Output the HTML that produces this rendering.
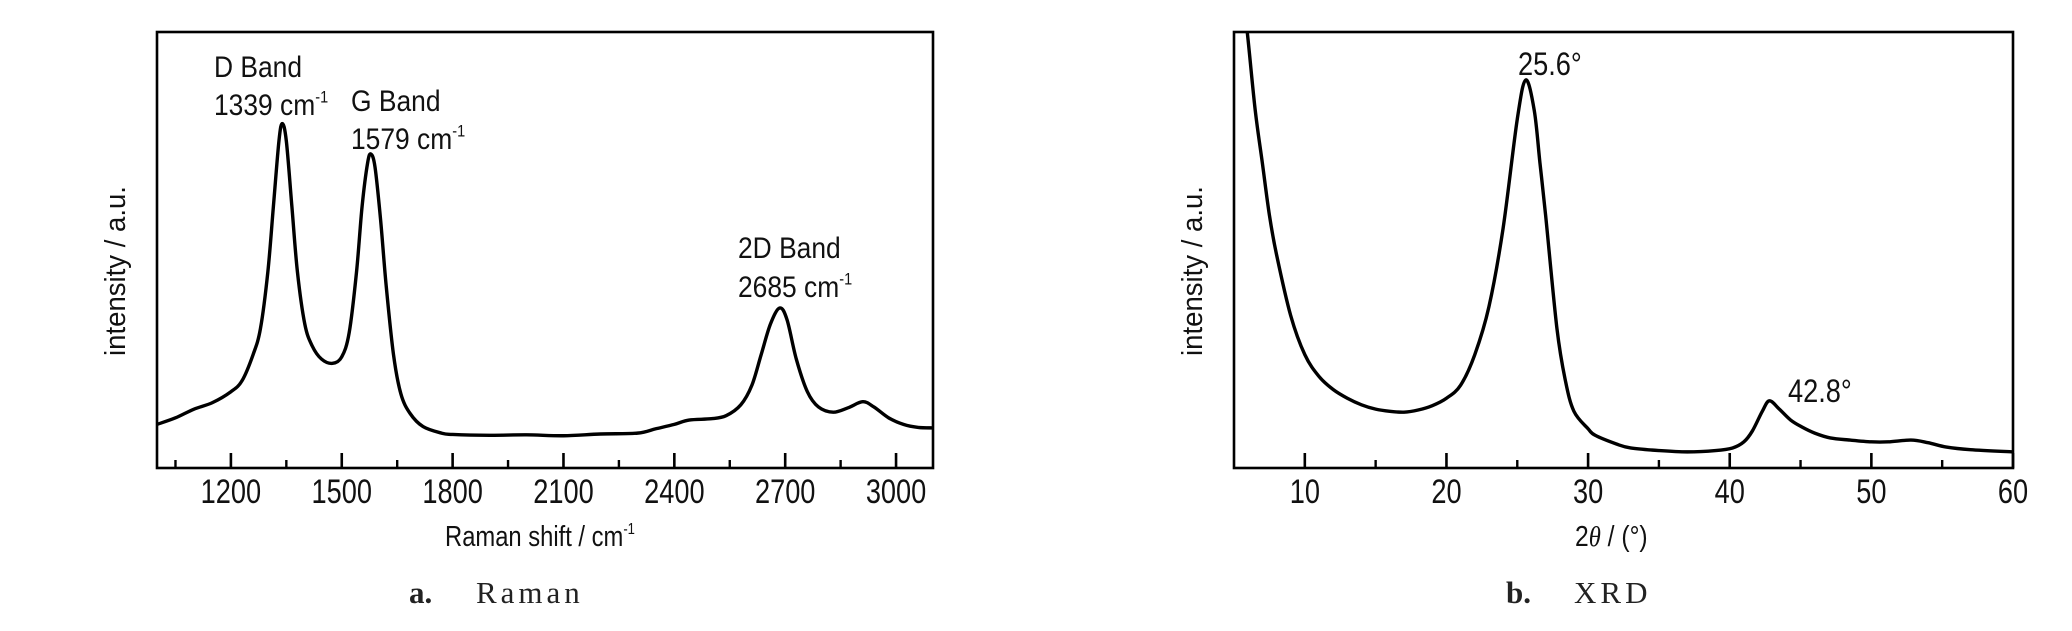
<!DOCTYPE html>
<html><head><meta charset="utf-8"><style>
html,body{margin:0;padding:0;background:#fff;}
svg{display:block;}
text{font-family:"Liberation Sans",sans-serif;fill:#111;}
.cap{font-family:"Liberation Serif",serif;fill:#222;}
</style></head><body>
<svg id="fig" width="2072" height="631" viewBox="0 0 2072 631" xmlns="http://www.w3.org/2000/svg">
<g id="ramanG"></g>
<g id="xrdG"></g>
</svg>
<script>
// ---- Raman data ----
const ramanX = [1000,1050,1100,1150,1200,1230,1260,1280,1300,1315,1330,1339,1350,1365,1380,1400,1420,1445,1475,1500,1520,1540,1555,1570,1579,1590,1605,1620,1640,1660,1685,1720,1770,1800,1900,2000,2100,2200,2300,2350,2400,2440,2500,2540,2580,2610,2635,2660,2685,2705,2730,2760,2790,2830,2870,2910,2940,2980,3020,3060,3100];
const ramanY = [10,11.5,13.5,15,17.5,20,26,32,45,60,75,79,75,60,45,33,28,25,24,25.5,31,45,60,70,72,69,57,42,26,17,12.5,9.5,8,7.7,7.5,7.6,7.4,7.8,8,9,10,11,11.3,12,14.5,19,26,33,36.7,34,25,17.5,14,12.8,13.8,15.2,14,11.5,10,9.3,9.2];
const ramanMajor = [1200,1500,1800,2100,2400,2700,3000];
const ramanMinor = [1050,1350,1650,1950,2250,2550,2850];
// ---- XRD data ----
const xrdX = [5.6,6,6.5,7,7.5,8,9,10,11,12,13,14,15,16,17,18,19,20,21,22,23,24,25,25.6,26.2,26.6,27,27.8,28.4,29,30,30.5,32,33,35,37,39,40.2,41,41.6,42.3,42.8,43.5,44.3,45.1,46,47.1,48.5,50,51.2,52.8,54,55.3,57,60];
const xrdY = [110,98,82,70,58,49,35,26,21,18,16,14.5,13.5,13,12.8,13.3,14.3,16,19,26,37,55,80,89,82,70,58,32,20,13,9,7.5,5.5,4.6,4,3.7,4,4.6,6,8.5,13,15.4,13.5,11,9.4,8,6.9,6.4,6,6,6.4,5.8,4.8,4.2,3.7];
const xrdMajor = [10,20,30,40,50,60];
const xrdMinor = [15,25,35,45,55];

const NS = "http://www.w3.org/2000/svg";
function mk(tag, parent, attrs){const e=document.createElementNS(NS,tag);for(const k in attrs)e.setAttribute(k,attrs[k]);parent.appendChild(e);return e;}
function txt(parent,s,x,y,size,sx,anchor){
  const t=mk('text',parent,{'font-size':size,'text-anchor':anchor||'start',transform:`translate(${x},${y}) scale(${sx},1)`});
  t.textContent=s;return t;}
function smooth(pts){
  let d=`M${pts[0][0]},${pts[0][1]}`;
  for(let i=0;i<pts.length-1;i++){
    const p0=pts[Math.max(0,i-1)],p1=pts[i],p2=pts[i+1],p3=pts[Math.min(pts.length-1,i+2)];
    const c1=[p1[0]+(p2[0]-p0[0])/6,p1[1]+(p2[1]-p0[1])/6];
    const c2=[p2[0]-(p3[0]-p1[0])/6,p2[1]-(p3[1]-p1[1])/6];
    d+=` C${c1[0].toFixed(2)},${c1[1].toFixed(2)} ${c2[0].toFixed(2)},${c2[1].toFixed(2)} ${p2[0].toFixed(2)},${p2[1].toFixed(2)}`;
  }return d;}

function drawPanel(g,cfg){
  const {L,R,T,B,xmin,xmax,xs,ys,major,minor,id}=cfg;
  const sx=v=>L+(v-xmin)/(xmax-xmin)*(R-L);
  const sy=v=>B-v/100*(B-T);
  const defs=mk('defs',g,{});
  const cp=mk('clipPath',defs,{id:'clip'+id});
  mk('rect',cp,{x:L,y:T,width:R-L,height:B-T});
  const pts=xs.map((x,i)=>[sx(x),sy(ys[i])]);
  const line=mk('path',g,{d:smooth(pts),fill:'none',stroke:'#000','stroke-width':3.4,'stroke-linejoin':'round','clip-path':`url(#clip${id})`});
  
  
  const frame=mk('rect',g,{x:L,y:T,width:R-L,height:B-T,fill:'none',stroke:'#000','stroke-width':2.6});
  
  
  const tg=mk('g',g,{});
  
  
  major.forEach(v=>{
    const tk=mk('line',tg,{x1:sx(v),x2:sx(v),y1:B,y2:B-15,stroke:'#000','stroke-width':2.6});
    
    
    const lb=txt(tg,String(v),sx(v),503,34,0.8,'middle');
    
    
  });
  minor.forEach(v=>{
    const tk=mk('line',tg,{x1:sx(v),x2:sx(v),y1:B,y2:B-8,stroke:'#000','stroke-width':2.4});
    
    
  });
  return {sx,sy};
}

const rg=document.getElementById('ramanG');
drawPanel(rg,{L:157,R:933,T:32,B:468,xmin:1000,xmax:3100,xs:ramanX,ys:ramanY,major:ramanMajor,minor:ramanMinor,id:'raman'});
const xg=document.getElementById('xrdG');
drawPanel(xg,{L:1234,R:2013,T:32,B:468,xmin:5,xmax:60,xs:xrdX,ys:xrdY,major:xrdMajor,minor:xrdMinor,id:'xrd'});

function sup(parent,x,y,base,supTxt,size,sx,name){
  const t=mk('text',parent,{'font-size':size,transform:`translate(${x},${y}) scale(${sx},1)`});
  
  
  t.appendChild(document.createTextNode(base));
  const s=mk('tspan',t,{'font-size':size*0.55,dy:-size*0.42});
  s.textContent=supTxt;
  return t;}

// Raman annotations
let a;
a=txt(rg,'D Band',214,77,30,0.88);


sup(rg,214,115,'1339 cm','-1',30,0.88,'d-band-value');
a=txt(rg,'G Band',351,111,30,0.88);


sup(rg,351,149,'1579 cm','-1',30,0.88,'g-band-value');
a=txt(rg,'2D Band',738,258,30,0.88);


sup(rg,738,297,'2685 cm','-1',30,0.88,'2d-band-value');
sup(rg,540,546,'Raman shift / cm','-1',29,0.82,'x-axis-title').setAttribute('text-anchor','middle');
a=mk('text',rg,{'font-size':29,'text-anchor':'middle',transform:'translate(125,271) rotate(-90) scale(0.95,1)'});
a.textContent='intensity / a.u.';


a=mk('text',rg,{'class':'cap','font-size':31,x:409,y:603});


a.innerHTML='<tspan font-weight="bold">a.</tspan><tspan x="476" letter-spacing="4">Raman</tspan>';

// XRD annotations
a=txt(xg,'25.6°',1518,75,32,0.85);


a=txt(xg,'42.8°',1788,402,32,0.85);


a=mk('text',xg,{'font-size':29,transform:'translate(1575,546) scale(0.85,1)'});
a.innerHTML='2<tspan font-style="italic" font-family="Liberation Serif">θ</tspan> / (°)';


a=mk('text',xg,{'font-size':29,'text-anchor':'middle',transform:'translate(1202,271) rotate(-90) scale(0.95,1)'});
a.textContent='intensity / a.u.';


a=mk('text',xg,{'class':'cap','font-size':31,x:1506,y:603});


a.innerHTML='<tspan font-weight="bold">b.</tspan><tspan x="1574" letter-spacing="4">XRD</tspan>';
</script>
</body></html>
